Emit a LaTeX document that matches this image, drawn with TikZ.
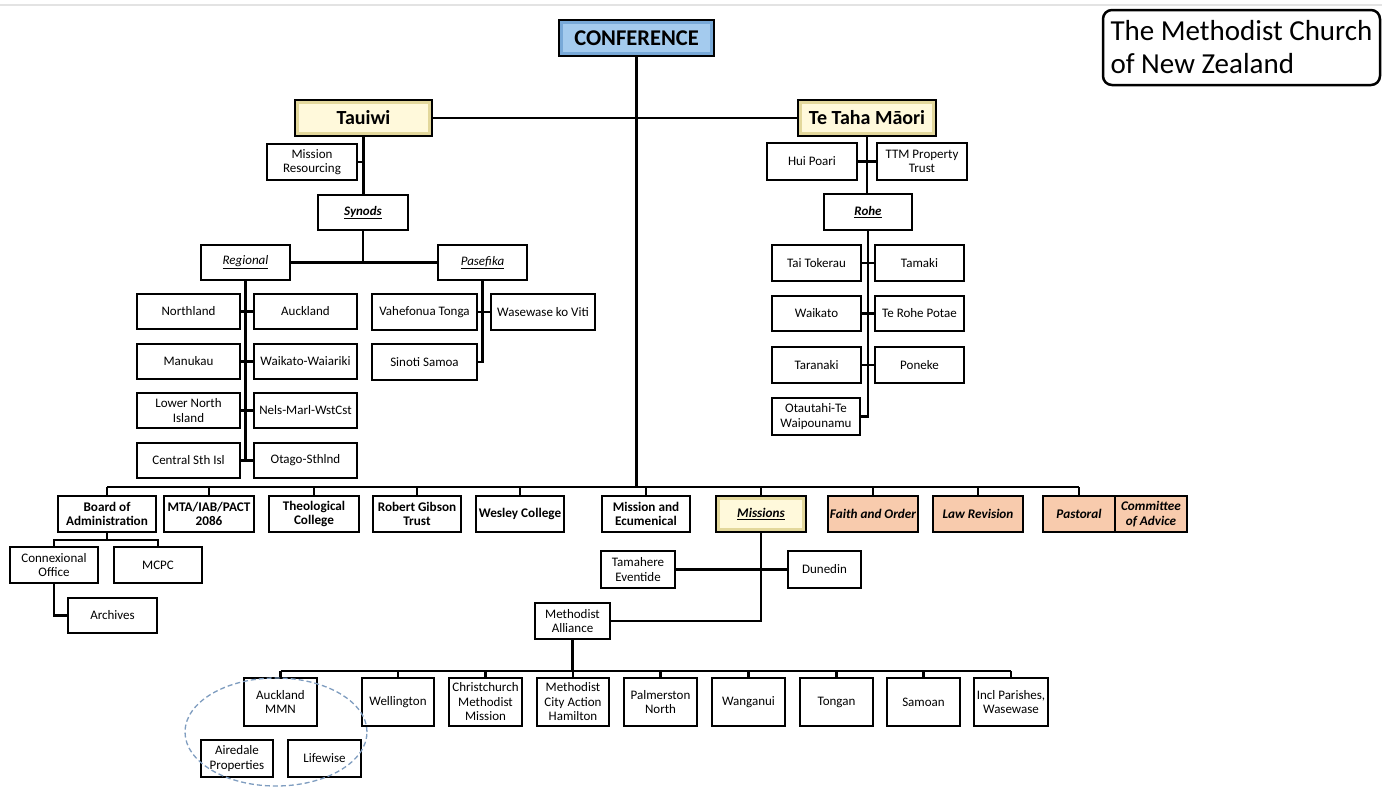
\documentclass[tikz,border=0pt]{standalone}
\usepackage{fontspec}
\setmainfont{Carlito}
\definecolor{confblue}{HTML}{A4CBEE}
\definecolor{confedge}{HTML}{78A9D8}
\definecolor{paleyel}{HTML}{FFF9DB}
\definecolor{yeledge}{HTML}{E3D89C}
\definecolor{peach}{HTML}{F8CBAD}
\definecolor{ellblue}{HTML}{7F9DC0}
\definecolor{topgray}{HTML}{E3E3E3}
\tikzset{
  box/.style={draw=black, line width=1.7pt, fill=white, inner sep=1pt, align=center,
    font=\fontsize{13}{14.5}\selectfont},
  bbox/.style={box, font=\fontsize{13.2}{14.5}\selectfont\bfseries},
  peachbox/.style={box, fill=peach, font=\fontsize{13.2}{14.5}\selectfont\bfseries\itshape},
  bevelbox/.style 2 args={draw=black, line width=2.4pt, fill=#1, inner sep=1pt, align=center,
    path picture={\draw[line width=8pt, #2] (path picture bounding box.south west) rectangle (path picture bounding box.north east);}},
  conn/.style={line width=2.3pt, draw=black},
}
\newcommand\bx[7]{\node[#6, minimum width={(#4)-(#2)}, minimum height={(#5)-(#3)}] (#1) at ({((#2)+(#4))/2},{((#3)+(#5))/2}) {#7};}
\begin{document}
\begin{tikzpicture}[x=1pt, y=-1pt]
\useasboundingbox (0,0) rectangle (1382,787);
\fill[white] (0,0) rectangle (1382,787);
\draw[topgray, line width=2pt] (0,5) -- (1382,5);

% title
\node[draw=black, line width=2.5pt, rounded corners=9pt, minimum width=277, minimum height=75,
  inner sep=1pt, align=left, font=\fontsize{29}{33}\selectfont] (title) at (1241.5,47.5)
  {The Methodist Church\\of New Zealand};

% top level
\bx{conf}{559}{20}{714}{56}{bevelbox={confblue}{confedge}, font=\fontsize{22.5}{25}\selectfont\bfseries}{CONFERENCE}
\bx{tauiwi}{295}{100}{432}{136}{bevelbox={paleyel}{yeledge}, font=\fontsize{20}{22}\selectfont\bfseries}{Tauiwi}
\bx{ttm}{798}{100}{936}{136}{bevelbox={paleyel}{yeledge}, font=\fontsize{20}{22}\selectfont\bfseries}{Te Taha Māori}

% Tauiwi side
\bx{mres}{267}{144}{357}{180}{box}{Mission\\Resourcing}
\bx{synods}{318}{195}{408}{230}{box}{\underline{\textbf{\textit{Synods}}}}
\bx{regional}{201}{245}{290}{280}{box}{\underline{\textit{Regional}}}
\bx{pasefika}{438}{245}{527}{280}{box}{\underline{\textit{Pasefika}}}
\bx{northland}{137}{294}{240}{329}{box}{Northland}
\bx{auckland}{254}{294}{357}{329}{box}{Auckland}
\bx{manukau}{137}{344}{240}{379}{box}{Manukau}
\bx{waiwai}{254}{344}{357}{379}{box}{Waikato-Waiariki}
\bx{lni}{137}{393}{240}{428}{box}{Lower North\\Island}
\bx{nels}{254}{393}{357}{428}{box}{Nels-Marl-WstCst}
\bx{central}{137}{443}{240}{478}{box}{Central Sth Isl}
\bx{otago}{254}{443}{357}{478}{box}{Otago-Sthlnd}
\bx{vahe}{372}{294}{477}{330}{box}{Vahefonua Tonga}
\bx{wase}{491}{294}{595}{330}{box}{Wasewase ko Viti}
\bx{sinoti}{372}{344}{477}{380}{box}{Sinoti Samoa}

% Te Taha Maori side
\bx{huip}{767}{143}{857}{180}{box}{Hui Poari}
\bx{ttmp}{877}{143}{967}{180}{box}{TTM Property\\Trust}
\bx{rohe}{824}{194}{912}{230}{box}{\underline{\textbf{\textit{Rohe}}}}
\bx{taitok}{772}{245}{861}{281}{box}{Tai Tokerau}
\bx{tamaki}{875}{245}{964}{281}{box}{Tamaki}
\bx{waikato}{772}{296}{861}{331}{box}{Waikato}
\bx{rpotae}{875}{296}{964}{331}{box}{Te Rohe Potae}
\bx{taranaki}{772}{347}{861}{383}{box}{Taranaki}
\bx{poneke}{875}{347}{964}{383}{box}{Poneke}
\bx{otau}{772}{398}{860}{435}{box}{Otautahi-Te\\Waipounamu}

% bottom row
\bx{board}{58}{496}{156}{532}{bbox}{Board of\\Administration}
\bx{mta}{164}{496}{254}{532}{bbox}{MTA/IAB/PACT\\2086}
\bx{theo}{269}{496}{359}{532}{bbox}{Theological\\College}
\bx{rgt}{373}{496}{461}{532}{bbox}{Robert Gibson\\Trust}
\bx{wesley}{476}{496}{564}{532}{bbox}{Wesley College}
\bx{missecu}{602}{496}{690}{532}{bbox}{Mission and\\Ecumenical}
\bx{missions}{716}{496}{806}{532}{bevelbox={paleyel}{yeledge}, font=\fontsize{13.2}{14.5}\selectfont\bfseries\itshape}{\underline{Missions}}
\bx{faith}{828}{496}{918}{532}{peachbox}{Faith and Order}
\bx{law}{933}{496}{1023}{532}{peachbox}{Law Revision}
\bx{pastoral}{1043}{496}{1115}{532}{peachbox}{Pastoral}
\bx{coa}{1115}{496}{1187}{532}{peachbox}{Committee\\of Advice}

% board children
\bx{connex}{10}{547}{98}{583}{box}{Connexional\\Office}
\bx{mcpc}{114}{547}{202}{583}{box}{MCPC}
\bx{archives}{68}{598}{157}{633}{box}{Archives}

% missions children
\bx{tamahere}{601}{551}{675}{588}{box}{Tamahere\\Eventide}
\bx{dunedin}{788}{551}{861}{588}{box}{Dunedin}
\bx{alliance}{535}{603}{610}{639}{box}{Methodist\\Alliance}

% alliance row
\bx{aucmmn}{244}{678}{317}{726}{box}{Auckland\\MMN}
\bx{wellington}{362}{678}{434}{726}{box}{Wellington}
\bx{chch}{449}{678}{522}{726}{box}{Christchurch\\Methodist\\Mission}
\bx{mca}{537}{678}{609}{726}{box}{Methodist\\City Action\\Hamilton}
\bx{palm}{624}{678}{697}{726}{box}{Palmerston\\North}
\bx{wanganui}{712}{678}{785}{726}{box}{Wanganui}
\bx{tongan}{800}{678}{873}{726}{box}{Tongan}
\bx{samoan}{887}{678}{960}{726}{box}{Samoan}
\bx{incl}{974}{678}{1048}{726}{box}{Incl Parishes,\\Wasewase}
\bx{airedale}{201}{740}{273}{777}{box}{Airedale\\Properties}
\bx{lifewise}{288}{740}{361}{777}{box}{Lifewise}

\draw[ellblue, dashed, line width=1.3pt, dash pattern=on 5pt off 3pt] (276,732) ellipse [x radius=91pt, y radius=54pt];

% connectors
\coordinate (bus) at (636,487);
\coordinate (bsub) at (0,540);
\coordinate (bus2) at (0,671);
\draw[conn] (conf.south) -- (conf.south |- bus);
\draw[conn] (tauiwi.east) -- (ttm.west);
\draw[conn] (tauiwi.south) -- (tauiwi.south |- synods.north);
\draw[conn] (mres.east) -- (mres.east -| tauiwi.south);
\draw[conn] (synods.south) -- (synods.south |- regional.east);
\draw[conn] (regional.east) -- (pasefika.west);
\draw[conn] (regional.south) -- (regional.south |- central.east);
\draw[conn] (northland.east) -- (auckland.west);
\draw[conn] (manukau.east) -- (waiwai.west);
\draw[conn] (lni.east) -- (nels.west);
\draw[conn] (central.east) -- (otago.west);
\draw[conn] (pasefika.south) |- (sinoti.east);
\draw[conn] (vahe.east) -- (wase.west);
\draw[conn] (ttm.south) -- (ttm.south |- rohe.north);
\draw[conn] (huip.east) -- (ttmp.west);
\draw[conn] (rohe.south) |- (otau.east);
\draw[conn] (taitok.east) -- (tamaki.west);
\draw[conn] (waikato.east) -- (rpotae.west);
\draw[conn] (taranaki.east) -- (poneke.west);
\draw[conn] (board.north |- bus) -- (pastoral.north |- bus);
\foreach \n in {board,mta,theo,rgt,wesley,missecu,missions,faith,law,pastoral}
  \draw[conn] (\n.north) -- (\n.north |- bus);
\draw[conn] (board.south) -- (board.south |- bsub);
\draw[conn] (connex.north) |- (board.south |- bsub) -| (mcpc.north);
\draw[conn] (connex.south) |- (archives.west);
\draw[conn] (missions.south) |- (alliance.east);
\draw[conn] (tamahere.east) -- (dunedin.west);
\draw[conn] (alliance.south) -- (alliance.south |- bus2);
\draw[conn] (aucmmn.north |- bus2) -- (incl.north |- bus2);
\foreach \n in {aucmmn,wellington,chch,mca,palm,wanganui,tongan,samoan,incl}
  \draw[conn] (\n.north) -- (\n.north |- bus2);
\end{tikzpicture}
\end{document}
